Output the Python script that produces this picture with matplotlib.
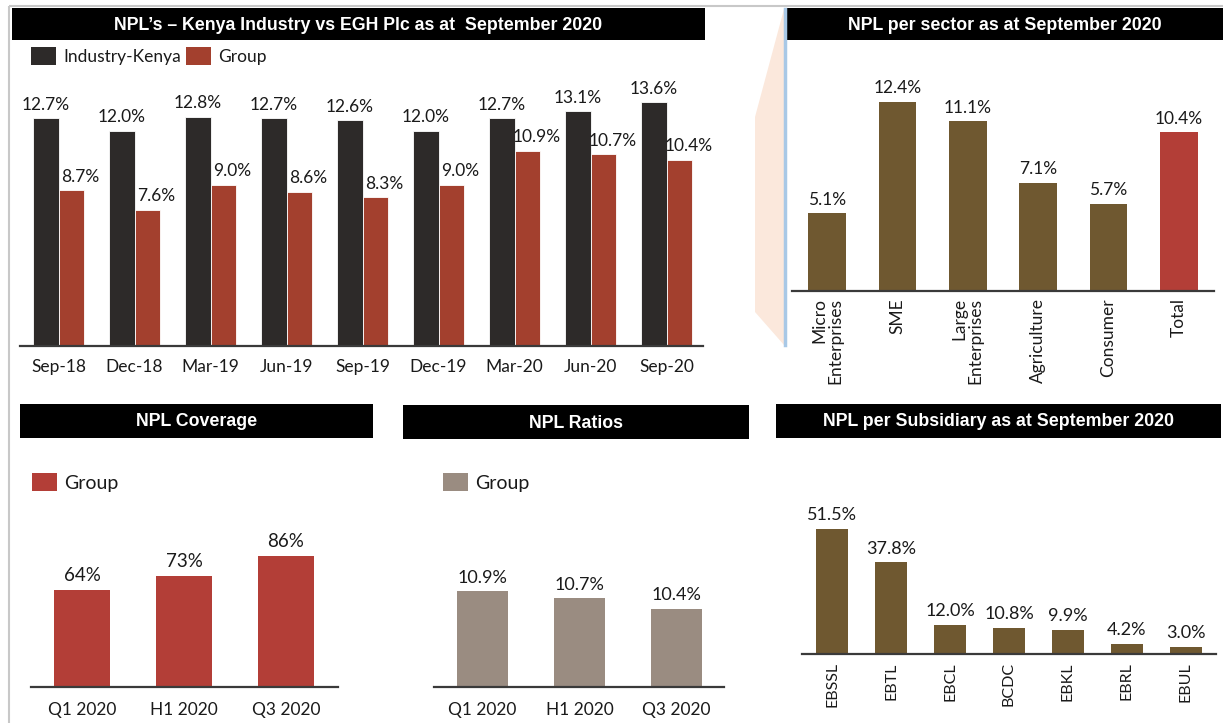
import matplotlib
matplotlib.use("Agg")
import matplotlib.pyplot as plt
from matplotlib.patches import Rectangle, Polygon

# ---------------- data ----------------
quarters = ["Sep-18", "Dec-18", "Mar-19", "Jun-19", "Sep-19",
            "Dec-19", "Mar-20", "Jun-20", "Sep-20"]
industry_kenya = [12.7, 12.0, 12.8, 12.7, 12.6, 12.0, 12.7, 13.1, 13.6]
group_npl = [8.7, 7.6, 9.0, 8.6, 8.3, 9.0, 10.9, 10.7, 10.4]
series_names = ["Industry-Kenya", "Group"]

sectors = ["Micro\nEnterprises", "SME", "Large\nEnterprises",
           "Agriculture", "Consumer", "Total"]
sector_npl = [5.1, 12.4, 11.1, 7.1, 5.7, 10.4]

periods = ["Q1 2020", "H1 2020", "Q3 2020"]
coverage = [64, 73, 86]
npl_ratio = [10.9, 10.7, 10.4]

subsidiaries = ["EBSSL", "EBTL", "EBCL", "BCDC", "EBKL", "EBRL", "EBUL"]
subsidiary_npl = [51.5, 37.8, 12.0, 10.8, 9.9, 4.2, 3.0]

titles = ["NPL\u2019s \u2013 Kenya Industry vs EGH Plc as at  September 2020",
          "NPL per sector as at September 2020",
          "NPL Coverage", "NPL Ratios",
          "NPL per Subsidiary as at September 2020"]

# ---------------- style ----------------
W, H = 1223, 723
DARK = "#2d2a29"
RUST = "#a3402e"
RED = "#b33e37"
BROWN = "#6f5830"
TAUPE = "#9a8c81"
TXT = "#1a1a1a"
BODY_FONT = ["Lato", "DejaVu Sans"]
TITLE_FONT = ["Liberation Sans", "DejaVu Sans"]
plt.rcParams["font.family"] = BODY_FONT

fig = plt.figure(figsize=(W / 100, H / 100), dpi=100)
fig.patch.set_facecolor("white")


def px_axes(x0, y0, x1, y1, **kw):
    """Axes placed by pixel box (y measured from the top)."""
    return fig.add_axes([x0 / W, 1 - y1 / H, (x1 - x0) / W, (y1 - y0) / H], **kw)


# full-figure layer for frame, title bars and legends
bg = px_axes(0, 0, W, H, zorder=0)
bg.set_xlim(0, W)
bg.set_ylim(H, 0)
bg.axis("off")

# outer frame
bg.add_patch(Rectangle((9, 6), W + 20, H + 20, fill=False,
                       edgecolor="#c8c8c8", linewidth=1.5))
# callout wedge next to the sector panel
bg.add_patch(Polygon([(784, 9), (755, 117), (755, 312), (784, 345)],
                     closed=True, facecolor="#fbe8dc", edgecolor="none"))
bg.plot([785, 785], [9, 345], color="#a8c8e6", linewidth=2.5)


def title_bar(x0, y0, x1, y1, text, size=12.8):
    bg.add_patch(Rectangle((x0, y0), x1 - x0, y1 - y0, facecolor="black",
                           edgecolor="none"))
    bg.text((x0 + x1) / 2, (y0 + y1) / 2 + 1, text, color="white",
            fontsize=size, fontweight="bold", family=TITLE_FONT,
            ha="center", va="center")


title_bar(12, 8, 705, 40, titles[0])
title_bar(786, 8, W, 40, titles[1])
title_bar(20, 404, 373, 438, titles[2])
title_bar(403, 405, 749, 439, titles[3])
title_bar(776, 404, 1221, 438, titles[4])


def legend_item(x, y, color, label, size=12.5):
    bg.add_patch(Rectangle((x, y), 25, 18, facecolor=color, edgecolor="none"))
    bg.text(x + 32, y + 10, label, fontsize=size, color=TXT,
            ha="left", va="center")


legend_item(31, 47, DARK, series_names[0])
legend_item(186, 47, RUST, series_names[1])
legend_item(32, 473, RED, series_names[1], size=14)
legend_item(443, 473, TAUPE, series_names[1], size=14)


def style_axes(ax):
    for s in ("top", "right", "left"):
        ax.spines[s].set_visible(False)
    ax.spines["bottom"].set_color("#3a3a3a")
    ax.spines["bottom"].set_linewidth(1.6)
    ax.set_yticks([])
    ax.tick_params(axis="x", length=0, labelsize=12.5, colors=TXT)
    ax.set_facecolor("none")


def value_labels(ax, xs, vals, fmt, size=12.5, dx=0, dy=4):
    for x, v in zip(xs, vals):
        ax.annotate(fmt.format(v), (x, v), xytext=(dx, dy),
                    textcoords="offset points", ha="center", va="bottom",
                    fontsize=size, color=TXT)


# ---------- panel 1: industry vs group ----------
ax1 = px_axes(20, 80, 703, 346)
style_axes(ax1)
idx = list(range(len(quarters)))
bw = 0.34
xd = [i - bw / 2 for i in idx]
xr = [i + bw / 2 for i in idx]
ax1.bar(xd, industry_kenya, width=bw, color=DARK, edgecolor="white",
        linewidth=0.6)
ax1.bar(xr, group_npl, width=bw, color=RUST, edgecolor="white", linewidth=0.6)
value_labels(ax1, xd, industry_kenya, "{:.1f}%")
value_labels(ax1, xr, group_npl, "{:.1f}%", dx=6.5)
ax1.set_xlim(-0.507, 8.48)
ax1.set_ylim(0, 14.84)
ax1.set_xticks(idx)
ax1.set_xticklabels(quarters)
ax1.tick_params(axis="x", pad=9)

# ---------- panel 2: per sector ----------
ax2 = px_axes(792, 50, 1214, 291)
style_axes(ax2)
sidx = list(range(len(sectors)))
scolors = [BROWN] * (len(sectors) - 1) + [RED]
ax2.bar(sidx, sector_npl, width=0.54, color=scolors)
value_labels(ax2, sidx, sector_npl, "{:.1f}%")
ax2.set_xlim(-0.5, 5.5)
ax2.set_ylim(0, 15.78)
ax2.set_xticks(sidx)
ax2.set_xticklabels(sectors, rotation=90, va="top", ha="center",
                    linespacing=1.0, multialignment="right")
ax2.tick_params(axis="x", pad=5)

# ---------- panel 3: coverage ----------
ax3 = px_axes(31, 450, 338, 687)
style_axes(ax3)
pidx = list(range(len(periods)))
ax3.bar(pidx, coverage, width=0.54, color=RED)
value_labels(ax3, pidx, coverage, "{:.0f}%", size=13.5)
ax3.set_xlim(-0.5, 2.51)
ax3.set_ylim(0, (687 - 450) / 1.523)
ax3.set_xticks(pidx)
ax3.set_xticklabels(periods)
ax3.tick_params(axis="x", pad=11)

# ---------- panel 4: NPL ratios ----------
ax4 = px_axes(434, 450, 724, 687)
style_axes(ax4)
ax4.bar(pidx, npl_ratio, width=0.53, color=TAUPE)
value_labels(ax4, pidx, npl_ratio, "{:.1f}%", size=13)
ax4.set_xlim(-0.5, 2.49)
ax4.set_ylim(8.19, 8.19 + (687 - 450) / 35.4)
ax4.set_xticks(pidx)
ax4.set_xticklabels(periods)
ax4.tick_params(axis="x", pad=11)

# ---------- panel 5: per subsidiary ----------
ax5 = px_axes(802, 450, 1216, 654)
style_axes(ax5)
bidx = list(range(len(subsidiaries)))
ax5.bar(bidx, subsidiary_npl, width=0.54, color=BROWN)
value_labels(ax5, bidx, subsidiary_npl, "{:.1f}%", size=13)
ax5.set_xlim(-0.51, 6.51)
ax5.set_ylim(0, (654 - 450) / 2.427)
ax5.set_xticks(bidx)
ax5.set_xticklabels(subsidiaries, rotation=90, va="top", ha="center")
ax5.tick_params(axis="x", pad=6, labelsize=11.5)

fig.savefig("out.png", dpi=100, facecolor="white")
